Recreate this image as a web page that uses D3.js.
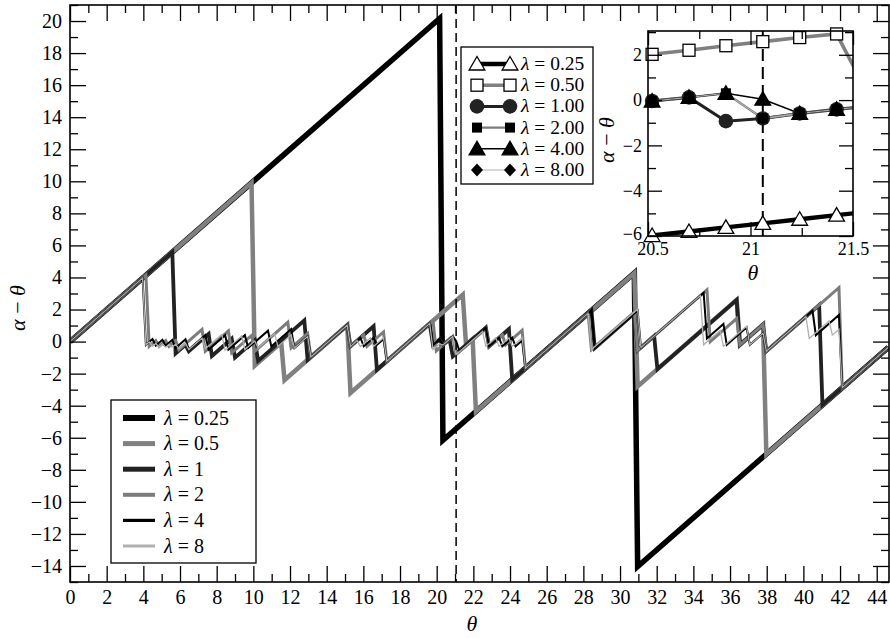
<!DOCTYPE html>
<html>
<head>
<meta charset="utf-8">
<script src="https://cdn.jsdelivr.net/npm/d3@7"></script>
<style>
  body { margin: 0; background: #fff; }
</style>
</head>
<body>
<svg id="chart" width="890" height="638"></svg>
<script>
// ---- data -------------------------------------------------------------
const lambdaLabels = ["0.25", "0.5", "1", "2", "4", "8"];
const insetLambdaLabels = ["0.25", "0.50", "1.00", "2.00", "4.00", "8.00"];

const xTicksMajor = d3.range(0, 45, 2);
const yTicksMajor = d3.range(-14, 21, 2);

// vertices (theta, alpha - theta) of each trajectory
const pathL025 = [[0,0],[20.16,20.16],[20.34,-6.16],[30.78,4.28],[30.96,-14.04],[44.64,-0.36]];
const pathL05 = [[0,0],[9.9,9.9],[10.08,-1.5],[11.52,-0.06],[11.7,-2.4],[15.12,1.02],[15.3,-3.2],
  [21.42,2.92],[21.6,-0.2],[21.96,0.16],[22.14,-4.36],[30.78,4.28],[30.96,-2.8],[36.36,2.6],[36.54,-0.2],
  [37.8,1.06],[37.98,-7.02],[44.64,-0.36]];
const pathL1 = [[0,0],[5.58,5.58],[5.76,-0.74],[6.3,-0.2],[6.48,-0.6],[7.56,0.48],[7.74,-0.9],[8.82,0.18],
  [9.0,-1.0],[10.08,0.08],[10.26,-1.2],[12.78,1.32],[12.96,-1.14],[15.12,1.02],[15.3,-0.3],[16.56,0.96],
  [16.74,-1.76],[19.62,1.12],[19.8,-0.22],[20.16,0.14],[20.34,-0.22],[20.7,0.14],[20.88,-0.93],
  [22.68,0.87],[22.86,-0.3],[23.94,0.78],[24.12,-2.38],[28.44,1.94],[28.62,-0.4],[30.78,1.76],
  [30.96,-0.55],[31.86,0.35],[32.04,-1.72],[36.36,2.6],[36.54,-0.2],[37.8,1.06],[37.98,-0.6],
  [40.86,2.28],[41.04,-3.96],[44.64,-0.36]];
const pathL2 = [[0,0],[4.14,4.14],[4.32,-0.3],[4.68,0.06],[4.86,-0.3],[5.22,0.06],[5.4,-0.3],[5.76,0.06],
  [5.94,-0.5],[7.2,0.76],[7.38,-0.6],[8.64,0.66],[8.82,-0.7],[9.9,0.38],[10.08,-0.6],[11.88,1.2],
  [12.06,-0.4],[12.96,0.5],[13.14,-0.96],[15.12,1.02],[15.3,-0.3],[16.02,0.42],[16.2,-0.3],[17.1,0.6],
  [17.28,-1.22],[19.8,1.3],[19.98,-0.58],[20.88,0.32],[21.06,-0.81],[22.68,0.81],[22.86,-0.3],
  [23.58,0.42],[23.76,-0.2],[24.66,0.7],[24.84,-1.66],[28.26,1.76],[28.44,-0.5],[30.78,1.84],
  [30.96,-0.55],[34.74,3.23],[34.92,0.0],[36.36,1.44],[36.54,-0.2],[37.8,1.06],[37.98,-0.6],
  [41.94,3.36],[42.12,-2.88],[44.64,-0.36]];
const pathL4 = [[0,0],[3.96,3.96],[4.14,-0.2],[4.5,0.16],[4.68,-0.25],[5.04,0.11],[5.22,-0.25],[5.58,0.11],
  [5.76,-0.4],[6.3,0.14],[6.48,-0.5],[7.38,0.4],[7.56,-0.5],[8.46,0.4],[8.64,-0.5],[9.54,0.4],[9.72,-0.4],
  [10.8,0.68],[10.98,-0.3],[12.06,0.78],[12.24,-0.4],[12.96,0.32],[13.14,-0.96],[15.12,1.02],[15.3,-0.3],
  [15.84,0.24],[16.02,-0.3],[16.56,0.24],[16.74,-0.2],[17.1,0.16],[17.28,-1.22],[19.62,1.12],[19.8,-0.22],
  [20.16,0.14],[20.34,-0.22],[20.88,0.32],[21.06,0.04],[21.24,-0.59],[22.68,0.85],[22.86,-0.3],
  [23.4,0.24],[23.58,-0.3],[24.12,0.24],[24.3,-0.3],[24.66,0.06],[24.84,-1.66],[28.44,1.94],[28.62,-0.4],
  [30.96,1.94],[31.14,-0.37],[34.56,3.05],[34.74,0.2],[35.64,1.1],[35.82,-0.2],[36.9,0.88],[37.08,-0.2],
  [37.8,0.52],[37.98,-0.6],[40.5,1.92],[40.68,0.4],[41.94,1.66],[42.12,-2.88],[44.64,-0.36]];
const pathL8 = [[0,0],[3.96,3.96],[4.14,-0.2],[4.32,-0.02],[4.5,-0.3],[4.68,-0.12],[4.86,-0.35],
  [5.04,-0.17],[5.22,-0.35],[5.4,-0.17],[5.58,-0.35],[5.76,-0.17],[5.94,-0.45],[6.3,-0.09],[6.48,-0.5],
  [7.2,0.22],[7.38,-0.45],[8.28,0.45],[8.46,-0.55],[9.36,0.35],[9.54,-0.5],[10.08,0.04],[10.26,-0.4],
  [11.16,0.5],[11.34,-0.3],[12.06,0.42],[12.24,-0.4],[12.96,0.32],[13.14,-0.96],[15.12,1.02],[15.3,-0.3],
  [15.66,0.06],[15.84,-0.3],[16.38,0.24],[16.56,-0.3],[17.1,0.24],[17.28,-1.22],[19.62,1.12],[19.8,-0.5],
  [20.16,-0.14],[20.34,-0.22],[20.88,0.32],[21.06,-0.81],[22.5,0.63],[22.68,-0.3],[23.22,0.24],
  [23.4,-0.3],[23.94,0.24],[24.12,-0.3],[24.66,0.24],[24.84,-1.66],[28.26,1.76],[28.44,-0.5],
  [30.96,2.02],[31.14,-0.37],[34.38,2.87],[34.56,-0.2],[35.46,0.7],[35.64,-0.3],[36.9,0.96],[37.08,-0.2],
  [37.8,0.52],[37.98,-0.6],[40.14,1.56],[40.32,0.2],[41.4,1.28],[41.58,0.4],[41.94,0.76],[42.12,-2.88],
  [44.64,-0.36]];
const paths = [pathL025, pathL05, pathL1, pathL2, pathL4, pathL8];

// samples shown in the inset
const insetTheta = [20.34, 20.52, 20.70, 20.88, 21.06, 21.24, 21.42, 21.60];
const insetL025 = [-6.16, -5.98, -5.80, -5.62, -5.44, -5.26, -5.08, -4.90];
const insetL05  = [1.84, 2.02, 2.20, 2.40, 2.58, 2.76, 2.92, -0.20];
const insetL1   = [-0.22, -0.04, 0.12, -0.93, -0.81, -0.59, -0.41, -0.25];
const insetL2   = [-0.22, -0.04, 0.12, 0.30, -0.81, -0.59, -0.41, -0.25];
const insetL4   = [-0.22, -0.04, 0.12, 0.30, 0.04, -0.59, -0.41, -0.25];
const insetL8   = [-0.22, -0.04, 0.12, 0.30, -0.81, -0.59, -0.41, -0.25];
const insetSeries = [insetL025, insetL05, insetL1, insetL2, insetL4, insetL8];

const markedTheta = 21.06;

// ---- styles -----------------------------------------------------------
const FONT = "'Liberation Serif', 'Times New Roman', Times, 'DejaVu Serif', serif";
const colors = ["#000000", "#808080", "#222222", "#7c7c7c", "#000000", "#b0b0b0"];
const widths = [5.5, 4.5, 3.8, 3, 2, 1.3];
const legendWidths = [6, 5, 5, 4, 3.2, 3];
const markerKinds = ["triOpen", "sqOpen", "circle", "sqFill", "triFill", "diamond"];

// ---- main chart -------------------------------------------------------
const svg = d3.select("#chart");
const L = 70, R = 889, T = 5, B = 582;
const x = d3.scaleLinear().domain([0, 44.67]).range([L, R]);
const y = d3.scaleLinear().domain([-15, 21]).range([B, T]);

svg.append("defs").append("clipPath").attr("id", "clipMain")
  .append("rect").attr("x", L).attr("y", T).attr("width", R - L).attr("height", B - T);

const fmt = d3.format("d");
const odd = (a, b) => d3.range(a, b + 1).filter(v => Math.abs(v % 2) === 1);

function axes(g, xs, ys, opt) {
  const [x0, x1] = xs.range(), [y0, y1] = ys.range();
  g.append("g").attr("class", "xlab").attr("transform", `translate(0,${y0})`)
    .call(d3.axisBottom(xs).tickValues(opt.xMajor).tickSizeInner(-opt.major).tickSizeOuter(0)
      .tickPadding(opt.xPad).tickFormat(opt.xFmt))
    .call(a => a.selectAll("text").attr("font-size", opt.fs))
    .call(a => a.select(".domain").remove());
  g.append("g").attr("transform", `translate(0,${y0})`)
    .call(d3.axisBottom(xs).tickValues(opt.xMinor).tickSize(-opt.minor).tickFormat(""))
    .call(a => a.select(".domain").remove());
  g.append("g").attr("transform", `translate(0,${y1})`)
    .call(d3.axisTop(xs).tickValues(opt.xMajor).tickSize(-opt.major).tickFormat(""))
    .call(a => a.select(".domain").remove());
  g.append("g").attr("transform", `translate(0,${y1})`)
    .call(d3.axisTop(xs).tickValues(opt.xMinor).tickSize(-opt.minor).tickFormat(""))
    .call(a => a.select(".domain").remove());
  g.append("g").attr("class", "ylab").attr("transform", `translate(${x0},0)`)
    .call(d3.axisLeft(ys).tickValues(opt.yMajor).tickSizeInner(-opt.major).tickSizeOuter(0)
      .tickPadding(opt.yPad))
    .call(a => a.selectAll("text").attr("font-size", opt.fs))
    .call(a => a.select(".domain").remove());
  g.append("g").attr("transform", `translate(${x0},0)`)
    .call(d3.axisLeft(ys).tickValues(opt.yMinor).tickSize(-opt.minor).tickFormat(""))
    .call(a => a.select(".domain").remove());
  g.append("g").attr("transform", `translate(${x1},0)`)
    .call(d3.axisRight(ys).tickValues(opt.yMajor).tickSize(-opt.major).tickFormat(""))
    .call(a => a.select(".domain").remove());
  g.append("g").attr("transform", `translate(${x1},0)`)
    .call(d3.axisRight(ys).tickValues(opt.yMinor).tickSize(-opt.minor).tickFormat(""))
    .call(a => a.select(".domain").remove());
  g.selectAll(".tick line").attr("stroke", "#000").attr("stroke-width", 1.3);
  g.append("rect").attr("x", x0).attr("y", y1).attr("width", x1 - x0).attr("height", y0 - y1)
    .attr("fill", "none").attr("stroke", "#000").attr("stroke-width", 1.6);
}

// trajectories
const line = d3.line().x(d => x(d[0])).y(d => y(d[1]));
const plot = svg.append("g").attr("clip-path", "url(#clipMain)");
paths.forEach((p, i) => {
  plot.append("path").datum(p).attr("d", line)
    .attr("fill", "none").attr("stroke", colors[i]).attr("stroke-width", widths[i])
    .attr("stroke-linejoin", "miter").attr("stroke-miterlimit", 10);
});

// marked theta
plot.append("line").attr("x1", x(markedTheta)).attr("x2", x(markedTheta))
  .attr("y1", T).attr("y2", B).attr("stroke", "#000").attr("stroke-width", 1.5)
  .attr("stroke-dasharray", "9,5");

axes(svg.append("g"), x, y, {
  xMajor: xTicksMajor, xMinor: odd(1, 44), yMajor: yTicksMajor, yMinor: odd(-15, 21),
  major: 16, minor: 8, fs: 20, xPad: 8, yPad: 8, xFmt: fmt
});

svg.append("text").attr("x", 472).attr("y", 631).attr("text-anchor", "middle")
  .attr("font-size", 22).attr("font-style", "italic").text("θ");
svg.append("text").attr("transform", "translate(25,308) rotate(-90)").attr("text-anchor", "middle")
  .attr("font-size", 22)
  .call(t => {
    t.append("tspan").attr("font-style", "italic").text("α");
    t.append("tspan").text(" − ");
    t.append("tspan").attr("font-style", "italic").text("θ");
  });

// line legend
const lg = svg.append("g");
lg.append("rect").attr("x", 111).attr("y", 400).attr("width", 145).attr("height", 163)
  .attr("fill", "#fff").attr("stroke", "#000").attr("stroke-width", 1.3);
lambdaLabels.forEach((lab, i) => {
  const yy = 418 + i * 25.6;
  lg.append("line").attr("x1", 123).attr("x2", 155).attr("y1", yy).attr("y2", yy)
    .attr("stroke", colors[i]).attr("stroke-width", legendWidths[i]);
  const t = lg.append("text").attr("x", 164).attr("y", yy + 6.5).attr("font-size", 20);
  t.append("tspan").attr("font-style", "italic").text("λ");
  t.append("tspan").text(" = " + lab);
});

// markers
function marker(g, kind, cx, cy) {
  if (kind === "triOpen" || kind === "triFill") {
    const s = 7.5;
    g.append("path").attr("d", `M${cx},${cy - s}L${cx + s * 1.05},${cy + s * 0.8}L${cx - s * 1.05},${cy + s * 0.8}Z`)
      .attr("fill", kind === "triOpen" ? "#fff" : "#000").attr("stroke", "#000").attr("stroke-width", 1.3);
  } else if (kind === "sqOpen") {
    g.append("rect").attr("x", cx - 6).attr("y", cy - 6).attr("width", 12).attr("height", 12)
      .attr("fill", "#fff").attr("stroke", "#000").attr("stroke-width", 1.3);
  } else if (kind === "sqFill") {
    g.append("rect").attr("x", cx - 5).attr("y", cy - 5).attr("width", 10).attr("height", 10)
      .attr("fill", "#000");
  } else if (kind === "circle") {
    g.append("circle").attr("cx", cx).attr("cy", cy).attr("r", 7.3).attr("fill", "#222");
  } else {
    g.append("path").attr("d", `M${cx},${cy - 6.5}L${cx + 6},${cy}L${cx},${cy + 6.5}L${cx - 6},${cy}Z`)
      .attr("fill", "#000");
  }
}

// marker legend
const mg = svg.append("g");
mg.append("rect").attr("x", 461).attr("y", 47).attr("width", 132).attr("height", 137)
  .attr("fill", "#fff").attr("stroke", "#000").attr("stroke-width", 1.3);
insetLambdaLabels.forEach((lab, i) => {
  const yy = 64 + i * 21.2;
  mg.append("line").attr("x1", 477).attr("x2", 510).attr("y1", yy).attr("y2", yy)
    .attr("stroke", colors[i]).attr("stroke-width", widths[i] * 0.8);
  marker(mg, markerKinds[i], 477, yy);
  marker(mg, markerKinds[i], 510, yy);
  const t = mg.append("text").attr("x", 521).attr("y", yy + 6).attr("font-size", 19.5);
  t.append("tspan").attr("font-style", "italic").text("λ");
  t.append("tspan").text(" = " + lab);
});

// ---- inset ------------------------------------------------------------
const iL = 648, iR = 853, iT = 31, iB = 236;
const xi = d3.scaleLinear().domain([20.5, 21.5]).range([iL, iR]);
const yi = d3.scaleLinear().domain([-6, 3.05]).range([iB, iT]);
const ig = svg.append("g");
ig.append("rect").attr("x", iL).attr("y", iT).attr("width", iR - iL).attr("height", iB - iT).attr("fill", "#fff");
svg.select("defs").append("clipPath").attr("id", "clipInset")
  .append("rect").attr("x", iL).attr("y", iT).attr("width", iR - iL).attr("height", iB - iT);
const iplot = ig.append("g").attr("clip-path", "url(#clipInset)");
const iline = d3.line().x((d, k) => xi(insetTheta[k])).y(d => yi(d));
insetSeries.forEach((s, i) => {
  iplot.append("path").datum(s).attr("d", iline).attr("fill", "none")
    .attr("stroke", colors[i]).attr("stroke-width", widths[i] * 0.8);
});
iplot.append("line").attr("x1", xi(markedTheta)).attr("x2", xi(markedTheta))
  .attr("y1", iT).attr("y2", iB).attr("stroke", "#000").attr("stroke-width", 2)
  .attr("stroke-dasharray", "12,6");
const imk = ig.append("g");
insetSeries.forEach((s, i) => {
  s.forEach((v, k) => {
    const t = insetTheta[k];
    if (t < 20.5 || t > 21.5 || v < -6.3 || v > 3.3) return;
    marker(imk, markerKinds[i], xi(t), yi(v));
  });
});
axes(ig, xi, yi, {
  xMajor: [20.5, 21, 21.5], xMinor: [20.75, 21.25], yMajor: [-6, -4, -2, 0, 2], yMinor: [-5, -3, -1, 1, 3],
  major: 14, minor: 8, fs: 18, xPad: 6, yPad: 6, xFmt: d => (d === 21 ? "21" : d3.format(".1f")(d))
});
// keep the corner labels of the inset apart
ig.selectAll(".ylab .tick").filter(d => d === -6).select("text").attr("dy", "0.2em");
ig.selectAll(".xlab .tick").filter(d => d === 20.5).select("text").attr("dx", "0.25em");
svg.append("text").attr("x", 753).attr("y", 280).attr("text-anchor", "middle")
  .attr("font-size", 22).attr("font-style", "italic").text("θ");
svg.append("text").attr("transform", "translate(614,140) rotate(-90)").attr("text-anchor", "middle")
  .attr("font-size", 22)
  .call(t => {
    t.append("tspan").attr("font-style", "italic").text("α");
    t.append("tspan").text(" − ");
    t.append("tspan").attr("font-style", "italic").text("θ");
  });

// serif type everywhere
svg.selectAll("g").filter(function () { return this.hasAttribute("font-family"); })
  .attr("font-family", FONT);
svg.selectAll("text").attr("font-family", FONT).style("font-family", FONT);
</script>
</body>
</html>
